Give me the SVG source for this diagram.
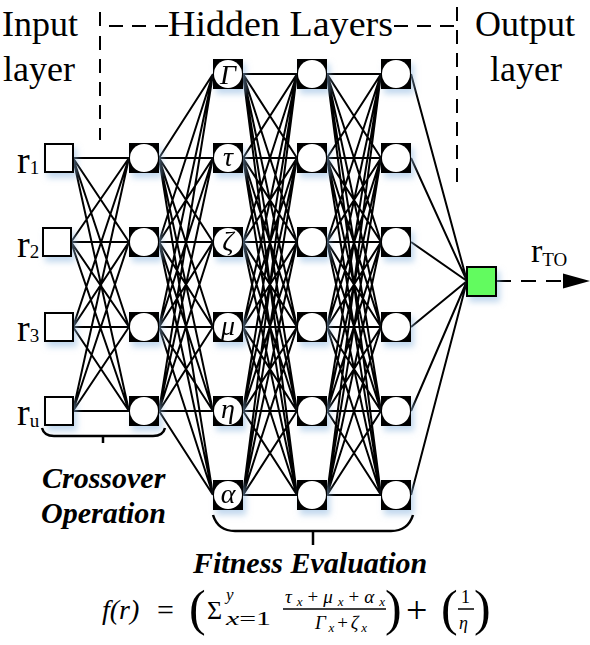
<svg xmlns="http://www.w3.org/2000/svg" width="590" height="645" viewBox="0 0 590 645">
<defs>
<style>
.lbl{font-family:"Liberation Serif","Times New Roman",serif;font-size:36px;fill:#000}
.r{font-family:"Liberation Serif","Times New Roman",serif;font-size:38px;fill:#000}
.bi{font-family:"Liberation Serif","Times New Roman",serif;font-size:30px;font-weight:bold;font-style:italic;fill:#000}
.gk{font-family:"Liberation Serif","Times New Roman",serif;font-size:28px;font-style:italic;fill:#000;text-anchor:middle}
.fm{font-family:"Liberation Serif","Times New Roman",serif;fill:#000}
.it{font-style:italic}
.edge{stroke:#000;stroke-width:2;fill:none}
.dash{stroke:#000;stroke-width:2;fill:none;stroke-dasharray:14 9}
.blk{fill:#000}
.wc{fill:#fff}
.inp{fill:#fff;stroke:#000;stroke-width:2}
.brace{stroke:#000;stroke-width:2.5;fill:none}
</style>
<filter id="glow" x="-40%" y="-40%" width="200%" height="200%">
<feGaussianBlur in="SourceAlpha" stdDeviation="3"/>
<feOffset dx="3" dy="5" result="b"/>
<feFlood flood-color="#8fb8e0" flood-opacity="0.55"/>
<feComposite in2="b" operator="in"/>
<feMerge><feMergeNode/><feMergeNode in="SourceGraphic"/></feMerge>
</filter>
</defs>
<rect width="590" height="645" fill="#fff"/>

<g id="labels">
<text class="lbl" x="2" y="36">Input</text>
<text class="lbl" x="3" y="81">layer</text>
<text class="lbl" x="168" y="36" textLength="225" lengthAdjust="spacingAndGlyphs">Hidden Layers</text>
<text class="lbl" x="475" y="36">Output</text>
<text class="lbl" x="526" y="81" text-anchor="middle">layer</text>
<path class="dash" d="M100,12 V26 H168"/>
<path class="dash" d="M100,36 V140"/>
<path class="dash" d="M394,26 H457"/>
<path class="dash" d="M457,7 V190"/>
</g>

<g id="connectors">
<path class="edge" d="M73,158L129,158M73,158L129,242M73,158L129,327M73,158L129,411M71,242L129,158M71,242L129,242M71,242L129,327M71,242L129,411M73,327L129,158M73,327L129,242M73,327L129,327M73,327L129,411M73,411L129,158M73,411L129,242M73,411L129,327M73,411L129,411"/>
<path class="edge" d="M159,158L213,74M159,158L213,158M159,158L213,242M159,158L213,327M159,158L213,411M159,158L213,495M159,242L213,74M159,242L213,158M159,242L213,242M159,242L213,327M159,242L213,411M159,242L213,495M159,327L213,74M159,327L213,158M159,327L213,242M159,327L213,327M159,327L213,411M159,327L213,495M159,411L213,74M159,411L213,158M159,411L213,242M159,411L213,327M159,411L213,411M159,411L213,495"/>
<path class="edge" d="M243,74L297,74M243,74L297,158M243,74L297,242M243,74L297,327M243,74L297,411M243,74L297,495M243,158L297,74M243,158L297,158M243,158L297,242M243,158L297,327M243,158L297,411M243,158L297,495M243,242L297,74M243,242L297,158M243,242L297,242M243,242L297,327M243,242L297,411M243,242L297,495M243,327L297,74M243,327L297,158M243,327L297,242M243,327L297,327M243,327L297,411M243,327L297,495M243,411L297,74M243,411L297,158M243,411L297,242M243,411L297,327M243,411L297,411M243,411L297,495M243,495L297,74M243,495L297,158M243,495L297,242M243,495L297,327M243,495L297,411M243,495L297,495"/>
<path class="edge" d="M327,74L381,74M327,74L381,158M327,74L381,242M327,74L381,327M327,74L381,411M327,74L381,495M327,158L381,74M327,158L381,158M327,158L381,242M327,158L381,327M327,158L381,411M327,158L381,495M327,242L381,74M327,242L381,158M327,242L381,242M327,242L381,327M327,242L381,411M327,242L381,495M327,327L381,74M327,327L381,158M327,327L381,242M327,327L381,327M327,327L381,411M327,327L381,495M327,411L381,74M327,411L381,158M327,411L381,242M327,411L381,327M327,411L381,411M327,411L381,495M327,495L381,74M327,495L381,158M327,495L381,242M327,495L381,327M327,495L381,411M327,495L381,495"/>
<path class="edge" d="M411,74L467,281M411,158L467,281M411,242L467,281M411,327L467,281M411,411L467,281M411,495L467,281"/>
<path class="dash" d="M496,281 H565" style="stroke-dasharray:15 10"/>
<polygon points="563,273.5 590,281 563,288.5" fill="#000"/>
</g>

<g id="in1" filter="url(#glow)"><rect class="inp" x="45" y="144" width="28" height="28"/></g>
<g id="in2" filter="url(#glow)"><rect class="inp" x="43" y="228" width="28" height="28"/></g>
<g id="in3" filter="url(#glow)"><rect class="inp" x="45" y="313" width="28" height="28"/></g>
<g id="in4" filter="url(#glow)"><rect class="inp" x="45" y="397" width="28" height="28"/></g>
<text class="r" x="17" y="173">r<tspan style="font-size:19px" dy="1">1</tspan></text>
<text class="r" x="17" y="257">r<tspan style="font-size:19px" dy="1">2</tspan></text>
<text class="r" x="17" y="341">r<tspan style="font-size:19px" dy="1">3</tspan></text>
<text class="r" x="17" y="425">r<tspan style="font-size:19px" dy="2">u</tspan></text>

<g id="h1a" filter="url(#glow)"><rect class="blk" x="129" y="143" width="30" height="30"/><circle class="wc" cx="144" cy="158" r="14"/></g>
<g id="h1b" filter="url(#glow)"><rect class="blk" x="129" y="227" width="30" height="30"/><circle class="wc" cx="144" cy="242" r="14"/></g>
<g id="h1c" filter="url(#glow)"><rect class="blk" x="129" y="312" width="30" height="30"/><circle class="wc" cx="144" cy="327" r="14"/></g>
<g id="h1d" filter="url(#glow)"><rect class="blk" x="129" y="396" width="30" height="30"/><circle class="wc" cx="144" cy="411" r="14"/></g>

<g id="h2a" filter="url(#glow)"><rect class="blk" x="213" y="59" width="30" height="30"/><circle class="wc" cx="228" cy="74" r="14"/><text class="gk" x="228" y="84">Γ</text></g>
<g id="h2b" filter="url(#glow)"><rect class="blk" x="213" y="143" width="30" height="30"/><circle class="wc" cx="228" cy="158" r="14"/><text class="gk" x="228" y="166">τ</text></g>
<g id="h2c" filter="url(#glow)"><rect class="blk" x="213" y="227" width="30" height="30"/><circle class="wc" cx="228" cy="242" r="14"/><text class="gk" x="228" y="250">ζ</text></g>
<g id="h2d" filter="url(#glow)"><rect class="blk" x="213" y="312" width="30" height="30"/><circle class="wc" cx="228" cy="327" r="14"/><text class="gk" x="228" y="335">μ</text></g>
<g id="h2e" filter="url(#glow)"><rect class="blk" x="213" y="396" width="30" height="30"/><circle class="wc" cx="228" cy="411" r="14"/><text class="gk" x="228" y="418">η</text></g>
<g id="h2f" filter="url(#glow)"><rect class="blk" x="213" y="480" width="30" height="30"/><circle class="wc" cx="228" cy="495" r="14"/><text class="gk" x="228" y="503">α</text></g>

<g id="h3a" filter="url(#glow)"><rect class="blk" x="297" y="59" width="30" height="30"/><circle class="wc" cx="312" cy="74" r="14"/></g>
<g id="h3b" filter="url(#glow)"><rect class="blk" x="297" y="143" width="30" height="30"/><circle class="wc" cx="312" cy="158" r="14"/></g>
<g id="h3c" filter="url(#glow)"><rect class="blk" x="297" y="227" width="30" height="30"/><circle class="wc" cx="312" cy="242" r="14"/></g>
<g id="h3d" filter="url(#glow)"><rect class="blk" x="297" y="312" width="30" height="30"/><circle class="wc" cx="312" cy="327" r="14"/></g>
<g id="h3e" filter="url(#glow)"><rect class="blk" x="297" y="396" width="30" height="30"/><circle class="wc" cx="312" cy="411" r="14"/></g>
<g id="h3f" filter="url(#glow)"><rect class="blk" x="297" y="480" width="30" height="30"/><circle class="wc" cx="312" cy="495" r="14"/></g>

<g id="h4a" filter="url(#glow)"><rect class="blk" x="381" y="59" width="30" height="30"/><circle class="wc" cx="396" cy="74" r="14"/></g>
<g id="h4b" filter="url(#glow)"><rect class="blk" x="381" y="143" width="30" height="30"/><circle class="wc" cx="396" cy="158" r="14"/></g>
<g id="h4c" filter="url(#glow)"><rect class="blk" x="381" y="227" width="30" height="30"/><circle class="wc" cx="396" cy="242" r="14"/></g>
<g id="h4d" filter="url(#glow)"><rect class="blk" x="381" y="312" width="30" height="30"/><circle class="wc" cx="396" cy="327" r="14"/></g>
<g id="h4e" filter="url(#glow)"><rect class="blk" x="381" y="396" width="30" height="30"/><circle class="wc" cx="396" cy="411" r="14"/></g>
<g id="h4f" filter="url(#glow)"><rect class="blk" x="381" y="480" width="30" height="30"/><circle class="wc" cx="396" cy="495" r="14"/></g>

<g id="out" filter="url(#glow)"><rect x="467" y="267" width="29" height="29" fill="#62fb5e" stroke="#000" stroke-width="2"/></g>
<text class="r" x="531" y="262" style="font-size:34px">r<tspan style="font-size:19px" dy="4">TO</tspan></text>

<g id="crossover">
<path class="brace" d="M42,428 Q44,436 54,436 L153,436 Q163,436 165,428 M103,436 V443"/>
<text class="bi" x="42" y="488">Crossover</text>
<text class="bi" x="41" y="523">Operation</text>
</g>

<g id="fitness">
<path class="brace" d="M213,515 Q218,531 235,531 L391,531 Q408,531 413,515 M313,531 V545"/>
<text class="bi" x="193" y="573">Fitness Evaluation</text>
</g>

<g id="formula">
<text class="fm it" x="102" y="619" style="font-size:28px">f(r)</text>
<text class="fm" x="157" y="620" style="font-size:30px">=</text>
<text class="fm" x="189" y="625" style="font-size:50px">(</text>
<text class="fm" x="207" y="619" style="font-size:26px">Σ</text>
<text class="fm it" x="226" y="600" style="font-size:17px">y</text>
<text class="fm" x="226" y="625" style="font-size:18px" textLength="45" lengthAdjust="spacingAndGlyphs"><tspan class="it">x</tspan>=1</text>
<text class="fm it" x="285" y="603" style="font-size:19px" textLength="100">τ<tspan style="font-size:13px" dy="3">x</tspan><tspan dy="-3" style="font-style:normal">+</tspan>μ<tspan style="font-size:13px" dy="3">x</tspan><tspan dy="-3" style="font-style:normal">+</tspan>α<tspan style="font-size:13px" dy="3">x</tspan></text>
<line x1="283" y1="609" x2="386" y2="609" stroke="#000" stroke-width="1.5"/>
<text class="fm it" x="315" y="629" style="font-size:19px" textLength="52">Γ<tspan style="font-size:13px" dy="3">x</tspan><tspan dy="-3" style="font-style:normal">+</tspan>ζ<tspan style="font-size:13px" dy="3">x</tspan></text>
<text class="fm" x="385" y="625" style="font-size:50px">)</text>
<text class="fm" x="406" y="623" style="font-size:38px">+</text>
<text class="fm" x="441" y="625" style="font-size:50px">(</text>
<text class="fm" x="461" y="603" style="font-size:18px">1</text>
<line x1="458" y1="609" x2="474" y2="609" stroke="#000" stroke-width="1.5"/>
<text class="fm it" x="459" y="629" style="font-size:18px">η</text>
<text class="fm" x="474" y="625" style="font-size:50px">)</text>
</g>
</svg>
